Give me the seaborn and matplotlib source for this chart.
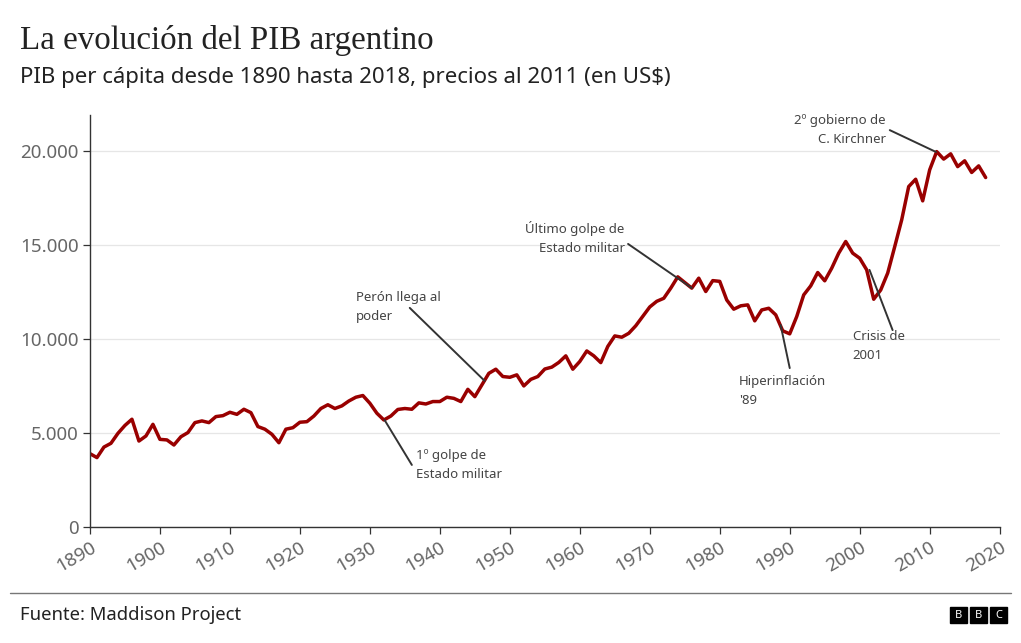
import pandas as pd
import numpy as np
import matplotlib.pyplot as plt
import seaborn as sns

sns.set_style("white")
plt.rcParams['font.family'] = ['Noto Sans', 'DejaVu Sans']

# Datos: PIB per cápita de Argentina (US$ a precios de 2011)
years = list(range(1890, 2019))
gdp = [
    3900, 3690, 4250, 4450, 4980, 5400, 5730, 4570, 4840, 5460,   # 1890-1899
    4660, 4630, 4360, 4800, 5020, 5550, 5640, 5550, 5870, 5920,   # 1900-1909
    6100, 5990, 6260, 6080, 5340, 5200, 4930, 4480, 5200, 5280,   # 1910-1919
    5570, 5600, 5900, 6300, 6500, 6300, 6440, 6700, 6900, 6990,   # 1920-1929
    6580, 6050, 5690, 5900, 6250, 6300, 6260, 6600, 6540, 6670,   # 1930-1939
    6670, 6900, 6840, 6670, 7320, 6930, 7550, 8170, 8390, 8000,   # 1940-1949
    7960, 8090, 7500, 7850, 8000, 8400, 8500, 8750, 9100, 8390,   # 1950-1959
    8800, 9360, 9100, 8740, 9600, 10160, 10090, 10300, 10700, 11200,  # 1960-1969
    11700, 12000, 12160, 12700, 13300, 13000, 12700, 13230, 12520, 13100,  # 1970-1979
    13060, 12070, 11580, 11760, 11810, 10960, 11540, 11630, 11280, 10430,  # 1980-1989
    10270, 11190, 12340, 12820, 13530, 13090, 13760, 14560, 15180, 14560,  # 1990-1999
    14290, 13670, 12110, 12600, 13500, 14900, 16330, 18100, 18490, 17340,  # 2000-2009
    18990, 19960, 19560, 19840, 19160, 19470, 18850, 19200, 18580,         # 2010-2018
]

x_ticks = list(range(1890, 2021, 10))
y_ticks = [0, 5000, 10000, 15000, 20000]
y_labels = ['0', '5.000', '10.000', '15.000', '20.000']

# anotaciones: texto, posición del texto, alineación, línea (desde, hasta)
notes = [
    ('Perón llega al\npoder', (1928.0, 12550), 'left', (1935.7, 11650), (1946.4, 7770)),
    ('1º golpe de\nEstado militar', (1936.6, 4150), 'left', (1932.1, 5690), (1936.0, 3300)),
    ('Último golpe de\nEstado militar', (1966.4, 16270), 'right', (1966.9, 15050), (1976.0, 12710)),
    ('Hiperinflación\n\'89', (1982.7, 8080), 'left', (1988.7, 10740), (1990.0, 8450)),
    ('Crisis de\n2001', (1999.0, 10470), 'left', (2001.4, 13670), (2004.7, 10470)),
    ('2º gobierno de\nC. Kirchner', (2003.7, 21950), 'right', (2004.3, 21100), (2010.9, 19940)),
]

df = pd.DataFrame({'Año': years, 'PIB': gdp})

fig = plt.figure(figsize=(10.21, 6.43), dpi=100)
ax = fig.add_axes([0.0881, 0.1804, 0.8910, 0.6406])

sns.lineplot(data=df, x='Año', y='PIB', color='#990000', linewidth=2.5, ax=ax)
ax.get_lines()[0].set_solid_joinstyle('round')
ax.get_lines()[0].set_solid_capstyle('round')

ax.set_xlim(1890, 2020)
ax.set_ylim(0, 21900)
ax.set_xticks(x_ticks)
ax.set_xticklabels([str(t) for t in x_ticks], rotation=30, ha='right',
                   rotation_mode='anchor', fontsize=13.5, color='#666666')
ax.set_yticks(y_ticks)
ax.set_yticklabels(y_labels, fontsize=13.5, color='#666666')
ax.set_xlabel('')
ax.set_ylabel('')
ax.grid(axis='y', color='#e6e6e6', linewidth=0.9)
ax.grid(axis='x', visible=False)
ax.set_axisbelow(True)
for s in ['top', 'right']:
    ax.spines[s].set_visible(False)
for s in ['left', 'bottom']:
    ax.spines[s].set_color('#333333')
    ax.spines[s].set_linewidth(1.0)
ax.tick_params(axis='both', length=5, width=0.9, color='#333333', pad=3, left=True, bottom=True)

for text, pos, ha, p0, p1 in notes:
    ax.text(pos[0], pos[1], text, ha=ha, va='top', fontsize=9.5,
            color='#444444', linespacing=1.62, multialignment=ha)
    ax.annotate('', xy=p1, xytext=p0,
                arrowprops=dict(arrowstyle='-', color='#333333', lw=1.4,
                                shrinkA=0, shrinkB=0))

# Título y subtítulo
fig.text(20 / 1021, 1 - 40 / 643, 'La evolución del PIB argentino',
         fontsize=23.8, family=['Liberation Serif', 'DejaVu Serif'],
         color='#222222', va='center', ha='left')
fig.text(20 / 1021, 1 - 77 / 643, 'PIB per cápita desde 1890 hasta 2018, precios al 2011 (en US$)',
         fontsize=16, color='#222222', va='center', ha='left')

# Pie
fig.add_artist(plt.Line2D([10 / 1021, 1011 / 1021], [1 - 593 / 643, 1 - 593 / 643],
                          color='#777777', linewidth=1.0))
fig.text(20 / 1021, 1 - 615 / 643, 'Fuente: Maddison Project',
         fontsize=13.3, color='#222222', va='center', ha='left')

for i, letter in enumerate('BBC'):
    x0 = (950 + i * 20) / 1021
    fig.patches.append(plt.Rectangle((x0, 1 - 623 / 643), 17 / 1021, 16 / 643,
                                     transform=fig.transFigure, color='black'))
    fig.text(x0 + 8.5 / 1021, 1 - 615 / 643, letter, fontsize=8, fontweight='bold',
             color='white', ha='center', va='center')

plt.savefig('out.png', dpi=100)
